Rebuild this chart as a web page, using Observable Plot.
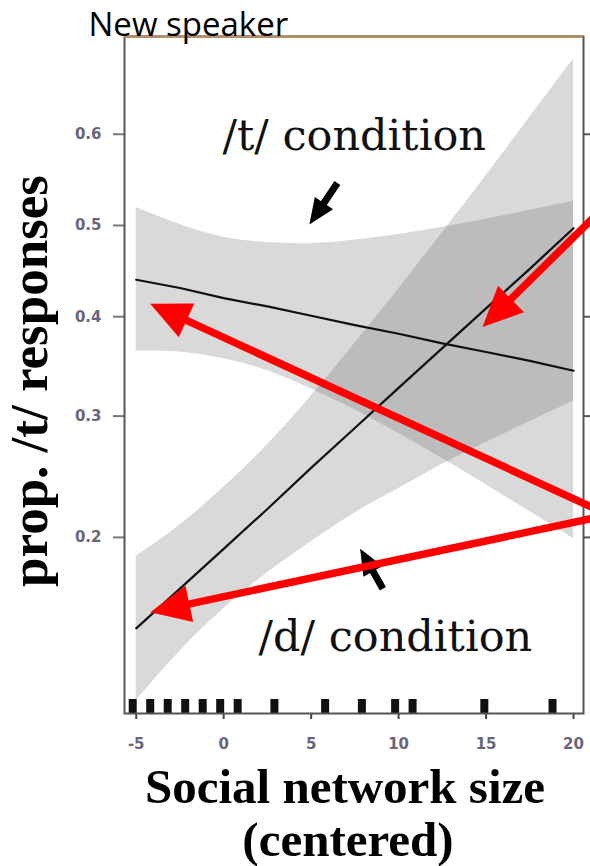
<!DOCTYPE html>
<html><head><meta charset="utf-8">
<script src="https://cdn.jsdelivr.net/npm/d3@7"></script>
<script src="https://cdn.jsdelivr.net/npm/@observablehq/plot@0.6"></script>
<style>
html,body{margin:0;padding:0;background:#fff;}
#chart{width:590px;height:866px;overflow:hidden;}
</style></head><body><div id="chart"></div>
<script>
// ---- data (proportions) ----
const xGrid = [-5, -2.5, 0, 2.5, 5, 7.5, 10, 12.5, 15, 17.5, 20];
const tFit  = [0.440, 0.431, 0.420, 0.411, 0.401, 0.391, 0.382, 0.372, 0.363, 0.354, 0.344];
const tLow  = [0.364, 0.363, 0.356, 0.344, 0.326, 0.306, 0.284, 0.262, 0.240, 0.219, 0.199];
const tHigh = [0.520, 0.501, 0.487, 0.481, 0.480, 0.484, 0.490, 0.498, 0.507, 0.517, 0.527];
const dFit  = [0.143, 0.166, 0.192, 0.221, 0.254, 0.289, 0.327, 0.367, 0.409, 0.452, 0.497];
const dLow  = [0.108, 0.131, 0.154, 0.176, 0.197, 0.218, 0.237, 0.257, 0.276, 0.295, 0.314];
const dHigh = [0.187, 0.209, 0.238, 0.274, 0.319, 0.372, 0.430, 0.492, 0.555, 0.618, 0.677];
const rugX  = [-5.2, -4.2, -3.2, -2.2, -1.2, -0.2, 0.8, 2.9, 5.8, 7.9, 9.8, 10.8, 14.9, 18.8];
const xTicks = [-5, 0, 5, 10, 15, 20];
const yTicks = [0.2, 0.3, 0.4, 0.5, 0.6];
const title = "New speaker";
const xLabel1 = "Social network size";
const xLabel2 = "(centered)";
const yLabel = "prop. /t/ responses";
const tLabel = "/t/ condition";
const dLabel = "/d/ condition";
// annotation arrows (data coordinates: x, proportion)
const blackArrows = [
  {x1: 6.5, p1: 0.547, x2: 4.9, p2: 0.501},
  {x1: 9.1, p1: 0.166, x2: 7.8, p2: 0.192}
];
const redArrows = [
  {x1: 21.1, p1: 0.508, x2: 14.8, p2: 0.389},
  {x1: 21.1, p1: 0.222, x2: -4.2, p2: 0.414},
  {x1: 21.1, p1: 0.214, x2: -4.2, p2: 0.152}
];

// ---- layout ----
const W = 590, H = 866, mL = 124, mR = 7, mT = 36, mB = 153;
const xDomain = [-5.67, 20.57];
const yDomain = [-2.169, 0.84]; // logit space
const logit = p => Math.log(p / (1 - p));
const expit = z => 1 / (1 + Math.exp(-z));
const sx = d3.scaleLinear(xDomain, [mL, W - mR]);
const sy = d3.scaleLinear(yDomain, [H - mB, mT]);

const band = (lo, hi, fit, name) => xGrid.map((x, i) => ({x, lo: lo[i], hi: hi[i], fit: fit[i], name}));
const tData = band(tLow, tHigh, tFit, "t");
const dData = band(dLow, dHigh, dFit, "d");

function arrows(list, headLen, headW, prefix) {
  const heads = [], shafts = [];
  list.forEach((a, k) => {
    const id = prefix + k;
    const x1 = sx(a.x1), y1 = sy(logit(a.p1)), x2 = sx(a.x2), y2 = sy(logit(a.p2));
    const len = Math.hypot(x2 - x1, y2 - y1);
    const ux = (x2 - x1) / len, uy = (y2 - y1) / len, nx = -uy, ny = ux;
    const bx = x2 - ux * headLen, by = y2 - uy * headLen;
    [[x2, y2], [bx + nx * headW / 2, by + ny * headW / 2], [bx - nx * headW / 2, by - ny * headW / 2], [x2, y2]]
      .forEach(([px, py]) => heads.push({id, x: sx.invert(px), y: sy.invert(py)}));
    shafts.push({id, xa: a.x1, ya: logit(a.p1), xb: sx.invert(bx + ux * 3), yb: sy.invert(by + uy * 3)});
  });
  return {heads, shafts};
}
const BA = arrows(blackArrows, 26, 22, "b");
const RA = arrows(redArrows, 40, 37, "r");

const tickColor = "#6a6577";
const tickFont = "'DejaVu Sans', sans-serif";
const serifBold = "'Liberation Serif', 'Times New Roman', serif";

const plot = Plot.plot({
  width: W, height: H,
  marginLeft: mL, marginRight: mR, marginTop: mT, marginBottom: mB,
  style: {background: "#fff", overflow: "visible"},
  x: {domain: xDomain},
  y: {domain: yDomain},
  marks: [
    Plot.areaY(tData, {x: "x", y1: d => logit(d.lo), y2: d => logit(d.hi), curve: "natural", fill: "#5f5f5f", fillOpacity: 0.237}),
    Plot.areaY(dData, {x: "x", y1: d => logit(d.lo), y2: d => logit(d.hi), curve: "natural", fill: "#5f5f5f", fillOpacity: 0.237}),
    Plot.line(tData, {x: "x", y: d => logit(d.fit), stroke: "#111", strokeWidth: 2.2}),
    Plot.line(dData, {x: "x", y: d => logit(d.fit), stroke: "#111", strokeWidth: 2.2}),
    Plot.ruleX(rugX, {insetTop: 663, stroke: "#111", strokeWidth: 8}),
    Plot.axisY({ticks: yTicks.map(logit), tickFormat: () => "", tickSize: 11, stroke: "#777", strokeWidth: 2, label: null}),
    Plot.axisY({anchor: "right", ticks: yTicks.map(logit), tickFormat: () => "", tickSize: 7, stroke: "#555", strokeWidth: 2, label: null}),
    Plot.axisX({ticks: xTicks, tickFormat: () => "", tickSize: 6, stroke: "#444", strokeWidth: 2, label: null}),
    Plot.text(yTicks, {y: d => logit(d), text: d => d.toFixed(1), frameAnchor: "left", textAnchor: "end", lineAnchor: "middle", dx: -23,
      fontSize: 15, fontWeight: "bold", fontFamily: tickFont, fill: tickColor}),
    Plot.text(xTicks, {x: d => d, text: d => String(d), frameAnchor: "bottom", textAnchor: "middle", lineAnchor: "top", dy: 25,
      fontSize: 15, fontWeight: "bold", fontFamily: tickFont, fill: tickColor}),
    Plot.frame({stroke: "#555", strokeWidth: 2}),
    Plot.ruleY([yDomain[1]], {stroke: "#b09068", strokeWidth: 3}),
    Plot.text([title], {text: d => d, frameAnchor: "top-left", textAnchor: "start", lineAnchor: "bottom", dx: -36, dy: -1,
      fontSize: 33, fontFamily: "'Open Sans', sans-serif", fill: "#000"}),
    Plot.text([tLabel], {text: d => d, frameAnchor: "top-left", textAnchor: "start", lineAnchor: "bottom", dx: 98, dy: 113,
      fontSize: 43, fontFamily: "'DejaVu Serif', serif", fill: "#111"}),
    Plot.text([dLabel], {text: d => d, frameAnchor: "top-left", textAnchor: "start", lineAnchor: "bottom", dx: 134, dy: 614,
      fontSize: 43, fontFamily: "'DejaVu Serif', serif", fill: "#111"}),
    Plot.text([yLabel], {text: d => d, frameAnchor: "left", rotate: -90, textAnchor: "middle", lineAnchor: "bottom", dx: -78, dy: 6,
      fontSize: 53, fontWeight: "bold", fontFamily: serifBold, fill: "#000"}),
    Plot.text([xLabel1], {text: d => d, frameAnchor: "bottom", textAnchor: "middle", lineAnchor: "bottom", dx: -9, dy: 89,
      fontSize: 49, fontWeight: "bold", fontFamily: serifBold, fill: "#000"}),
    Plot.text([xLabel2], {text: d => d, frameAnchor: "bottom", textAnchor: "middle", lineAnchor: "bottom", dx: -6, dy: 142,
      fontSize: 49, fontWeight: "bold", fontFamily: serifBold, fill: "#000"}),
    Plot.link(BA.shafts, {x1: "xa", y1: "ya", x2: "xb", y2: "yb", stroke: "#000", strokeWidth: 7}),
    Plot.line(BA.heads, {x: "x", y: "y", z: "id", fill: "#000", stroke: "none"}),
    Plot.link(RA.shafts, {x1: "xa", y1: "ya", x2: "xb", y2: "yb", stroke: "#ff0000", strokeWidth: 7.5}),
    Plot.line(RA.heads, {x: "x", y: "y", z: "id", fill: "#ff0000", stroke: "none"})
  ]
});
document.getElementById("chart").appendChild(plot);
</script></body></html>
